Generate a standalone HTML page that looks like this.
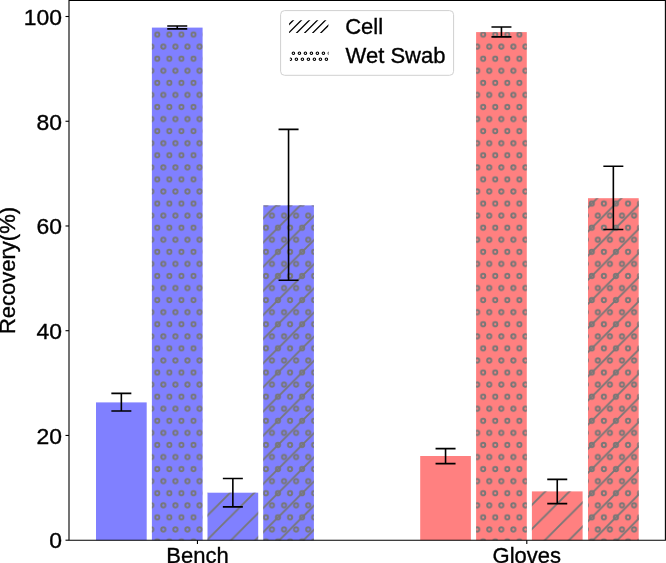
<!DOCTYPE html>
<html><head><meta charset="utf-8"><style>
html,body{margin:0;padding:0;background:#fff;}
svg{display:block;will-change:transform;}
text{font-family:"Liberation Sans",sans-serif;fill:#000;stroke:#000;stroke-width:0.35px;}
</style></head><body>
<svg width="666" height="563" viewBox="0 0 666 563">
<defs>
<pattern id="po" patternUnits="userSpaceOnUse" x="157.3" y="107" width="12.07" height="24.14"><circle cx="0" cy="0" r="2.1" fill="none" stroke="#777777" stroke-width="1.9"/><circle cx="12.07" cy="0" r="2.1" fill="none" stroke="#777777" stroke-width="1.9"/><circle cx="0" cy="24.14" r="2.1" fill="none" stroke="#777777" stroke-width="1.9"/><circle cx="12.07" cy="24.14" r="2.1" fill="none" stroke="#777777" stroke-width="1.9"/><circle cx="6.04" cy="12.07" r="2.1" fill="none" stroke="#777777" stroke-width="1.9"/></pattern>
<pattern id="pl" patternUnits="userSpaceOnUse" x="157.3" y="107" width="24.14" height="24.14"><path d="M-4 4L4 -4M-4 28.14L28.14 -4M20.14 28.14L28.14 20.14" stroke="#777777" stroke-width="1.85" fill="none"/></pattern>
</defs>
<rect x="96" y="402.4" width="50.7" height="137.8" fill="#8080ff"/><rect x="151.9" y="27.6" width="50.7" height="512.6" fill="#8080ff"/><rect x="151.9" y="27.6" width="50.7" height="512.6" fill="url(#po)"/><rect x="207.5" y="492.7" width="50.7" height="47.5" fill="#8080ff"/><rect x="207.5" y="492.7" width="50.7" height="47.5" fill="url(#pl)"/><rect x="263.2" y="205.4" width="50.7" height="334.8" fill="#8080ff"/><rect x="263.2" y="205.4" width="50.7" height="334.8" fill="url(#po)"/><rect x="263.2" y="205.4" width="50.7" height="334.8" fill="url(#pl)"/><rect x="420.2" y="456" width="50.7" height="84.2" fill="#ff8080"/><rect x="476.1" y="32.1" width="50.7" height="508.1" fill="#ff8080"/><rect x="476.1" y="32.1" width="50.7" height="508.1" fill="url(#po)"/><rect x="531.9" y="491.4" width="50.7" height="48.8" fill="#ff8080"/><rect x="531.9" y="491.4" width="50.7" height="48.8" fill="url(#pl)"/><rect x="588" y="198.2" width="50.7" height="342" fill="#ff8080"/><rect x="588" y="198.2" width="50.7" height="342" fill="url(#po)"/><rect x="588" y="198.2" width="50.7" height="342" fill="url(#pl)"/>
<path d="M121.35 393.4V411M111.35 393.4H131.35M111.35 411H131.35" stroke="#000" stroke-width="1.6" fill="none"/><path d="M177.25 26V28.9M167.25 26H187.25M167.25 28.9H187.25" stroke="#000" stroke-width="1.6" fill="none"/><path d="M232.85 478.5V506.9M222.85 478.5H242.85M222.85 506.9H242.85" stroke="#000" stroke-width="1.6" fill="none"/><path d="M288.55 129.4V280.3M278.55 129.4H298.55M278.55 280.3H298.55" stroke="#000" stroke-width="1.6" fill="none"/><path d="M445.55 448.6V463.6M435.55 448.6H455.55M435.55 463.6H455.55" stroke="#000" stroke-width="1.6" fill="none"/><path d="M501.45 27V36.9M491.45 27H511.45M491.45 36.9H511.45" stroke="#000" stroke-width="1.6" fill="none"/><path d="M557.25 479.4V503.6M547.25 479.4H567.25M547.25 503.6H567.25" stroke="#000" stroke-width="1.6" fill="none"/><path d="M613.35 166.3V229.5M603.35 166.3H623.35M603.35 229.5H623.35" stroke="#000" stroke-width="1.6" fill="none"/>
<path d="M69 540.2V0.5H665.4V540.2H69" stroke="#000" stroke-width="1.1" fill="none"/>
<path d="M65.5 540.2H69" stroke="#000" stroke-width="1.1"/><text transform="translate(62.0 548.45) scale(1.08 1)" font-size="21.2" text-anchor="end">0</text><path d="M65.5 435.45H69" stroke="#000" stroke-width="1.1"/><text transform="translate(62.0 443.7) scale(1.08 1)" font-size="21.2" text-anchor="end">20</text><path d="M65.5 330.7H69" stroke="#000" stroke-width="1.1"/><text transform="translate(62.0 338.95) scale(1.08 1)" font-size="21.2" text-anchor="end">40</text><path d="M65.5 225.98H69" stroke="#000" stroke-width="1.1"/><text transform="translate(62.0 234.23) scale(1.08 1)" font-size="21.2" text-anchor="end">60</text><path d="M65.5 121.26H69" stroke="#000" stroke-width="1.1"/><text transform="translate(62.0 129.51) scale(1.08 1)" font-size="21.2" text-anchor="end">80</text><path d="M65.5 16.5H69" stroke="#000" stroke-width="1.1"/><text transform="translate(62.0 24.75) scale(1.08 1)" font-size="21.2" text-anchor="end">100</text>
<path d="M197.45 540.2V544" stroke="#000" stroke-width="1.1"/><path d="M526.8 540.2V544" stroke="#000" stroke-width="1.1"/><text x="197.45" y="563.3" font-size="22" text-anchor="middle">Bench</text><text x="526.8" y="563.3" font-size="22" text-anchor="middle">Gloves</text>
<text transform="translate(14.9 270.5) rotate(-90)" font-size="22" text-anchor="middle">Recovery(%)</text>
<rect x="280.6" y="10.6" width="173" height="64.7" rx="4" ry="4" fill="#fff" stroke="#d0d0d0" stroke-width="1"/>
<clipPath id="cl"><rect x="289.1" y="20.2" width="39.3" height="12.8"/></clipPath><path clip-path="url(#cl)" d="M277.5 36L296.5 17M285.55 36L304.55 17M293.59 36L312.59 17M301.64 36L320.64 17M309.69 36L328.69 17M317.74 36L336.74 17" stroke="#000" stroke-width="1.3" fill="none"/><clipPath id="cd"><rect x="289.9" y="49" width="38.6" height="14"/></clipPath><g clip-path="url(#cd)" fill="none" stroke="#000" stroke-width="1.1"><circle cx="293.4" cy="53.3" r="1.25"/><circle cx="299.4" cy="53.3" r="1.25"/><circle cx="305.4" cy="53.3" r="1.25"/><circle cx="311.4" cy="53.3" r="1.25"/><circle cx="317.4" cy="53.3" r="1.25"/><circle cx="323.4" cy="53.3" r="1.25"/><circle cx="329.4" cy="53.3" r="1.25"/><circle cx="290.4" cy="59.3" r="1.25"/><circle cx="296.4" cy="59.3" r="1.25"/><circle cx="302.4" cy="59.3" r="1.25"/><circle cx="308.4" cy="59.3" r="1.25"/><circle cx="314.4" cy="59.3" r="1.25"/><circle cx="320.4" cy="59.3" r="1.25"/><circle cx="326.4" cy="59.3" r="1.25"/></g>
<text x="345.2" y="34.1" font-size="22">Cell</text><text x="345.6" y="63.3" font-size="22">Wet Swab</text>
</svg>
</body></html>
